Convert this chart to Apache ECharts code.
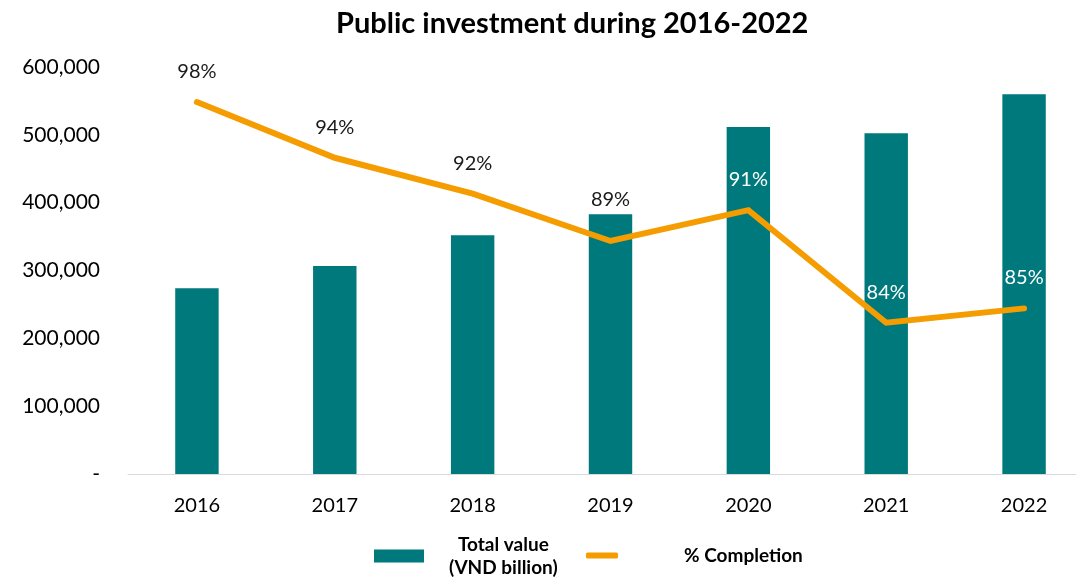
<!DOCTYPE html>
<html>
<head>
<meta charset="utf-8">
<script src="https://cdn.jsdelivr.net/npm/echarts@6/dist/echarts.min.js"></script>
<style>
html,body{margin:0;padding:0;background:#fff;}
#c{width:1076px;height:583px;}
</style>
</head>
<body>
<div id="c"></div>
<script>
const categories = ['2016','2017','2018','2019','2020','2021','2022'];
const totalValue = [274000, 306500, 352000, 383000, 511500, 502500, 560000];
const completionPct = [98.0, 94.47, 92.2, 89.2, 91.15, 84.02, 84.93];
const yTicks = [0, 100000, 200000, 300000, 400000, 500000, 600000];

const FONT = 'Lato';
const teal = '#00797D';
const orange = '#F59D00';

const chart = echarts.init(document.getElementById('c'), null, {renderer: 'canvas'});

const lineData = completionPct.map((v, i) => ({
  value: v,
  label: {
    color: i >= 4 ? '#ffffff' : '#1a1a1a',
    distance: i === 3 ? 31 : 20
  }
}));

const option = {
  backgroundColor: '#ffffff',
  animation: false,
  title: {
    text: 'Public investment during 2016-2022',
    left: 336,
    top: 9,
    padding: 0,
    textStyle: {fontFamily: FONT, fontSize: 29, fontWeight: 'bold', color: '#000'}
  },
  legend: [
    {
      data: [{name: 'Total value (VND billion)', icon: 'rect'}],
      left: 374,
      top: 535,
      padding: 0,
      itemWidth: 50,
      itemHeight: 13,
      formatter: () => '{a|Total value}\n{a|(VND billion)}',
      textStyle: {
        fontFamily: FONT, fontSize: 19, fontWeight: 'bold', color: '#000',
        padding: [0, 0, 0, 20],
        rich: {a: {align: 'center', fontFamily: FONT, fontSize: 19, fontWeight: 'bold', color: '#000', lineHeight: 23}}
      }
    },
    {
      data: [{name: '% Completion', icon: 'roundRect'}],
      left: 586,
      top: 546,
      padding: 0,
      itemWidth: 32,
      itemHeight: 6,
      textStyle: {
        fontFamily: FONT, fontSize: 19, fontWeight: 'bold', color: '#000',
        padding: [0, 0, 0, 61]
      }
    }
  ],
  grid: {left: 128, width: 965, top: 67, height: 407, containLabel: false, outerBoundsMode: 'none'},
  xAxis: {
    type: 'category',
    data: categories,
    axisLine: {show: true, lineStyle: {color: '#D9D9D9', width: 1}},
    axisTick: {show: false},
    axisLabel: {fontFamily: FONT, fontSize: 20, color: '#000', margin: 22}
  },
  yAxis: [
    {
      type: 'value',
      min: 0,
      max: 600000,
      interval: 100000,
      splitLine: {show: false},
      axisLine: {show: false},
      axisTick: {show: false},
      axisLabel: {
        fontFamily: FONT, fontSize: 21, color: '#000', margin: 28,
        formatter: v => v === 0 ? '-' : v.toLocaleString('en-US')
      }
    },
    {
      type: 'value',
      min: 74.44,
      max: 100.22,
      show: false,
      splitLine: {show: false}
    }
  ],
  series: [
    {
      name: 'Total value (VND billion)',
      type: 'bar',
      data: totalValue,
      barWidth: '31.5%',
      itemStyle: {color: teal},
      yAxisIndex: 0
    },
    {
      name: '% Completion',
      type: 'line',
      yAxisIndex: 1,
      data: lineData,
      symbol: 'circle',
      symbolSize: 1,
      showSymbol: true,
      itemStyle: {color: orange},
      lineStyle: {color: orange, width: 6, cap: 'round', join: 'miter'},
      label: {
        show: true,
        position: 'top',
        fontFamily: FONT,
        fontSize: 20,
        formatter: p => Math.round(p.value) + '%'
      },
      z: 5
    }
  ]
};
chart.setOption(option);
</script>
</body>
</html>
